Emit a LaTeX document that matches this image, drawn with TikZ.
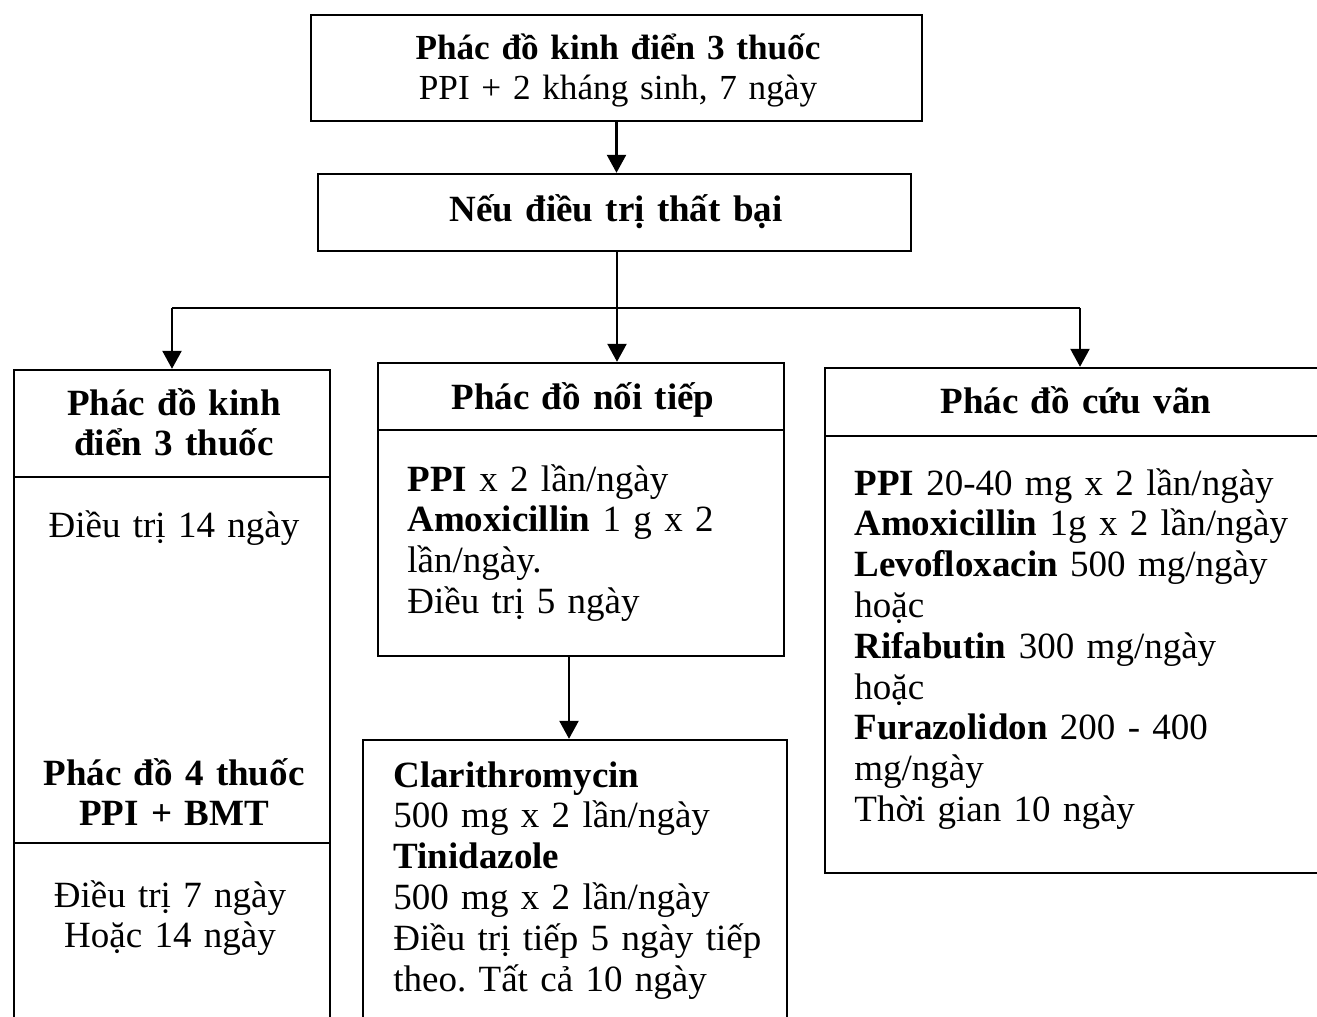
\documentclass[tikz,border=0pt]{standalone}
\usepackage{fontspec}
\setmainfont{Liberation Serif}
\usetikzlibrary{fit,arrows.meta}
\newcommand\dfont{\frenchspacing\fontsize{18.5}{20.4}\selectfont}
\newcommand\tfont{\frenchspacing\fontsize{17.6}{20.4}\selectfont}
\begin{document}
\begin{tikzpicture}[x=0.5pt,y=-0.5pt,
  box/.style={draw, line width=1.2pt, inner sep=0pt},
  txt/.style={inner sep=0pt, anchor=base west, text width=#1, align=left, font=\dfont},
  ctr/.style={inner sep=0pt, anchor=base, text width=#1, align=center, font=\dfont},
  conn/.style={line width=1.2pt},
  arr/.style={line width=1.2pt, -{Triangle[width=9.5pt,length=9pt]}}
]
\path[use as bounding box, clip] (0,0) rectangle (1317,1017);
\fill[white] (0,0) rectangle (1317,1017);

% boxes
\node[box, fit={(311,15) (922,121)}] (t1) {};
\node[box, fit={(318,174) (911,251)}] (t2) {};
\node[box, fit={(14,370) (330,477)}] (L1) {};
\node[box, fit={(14,477) (330,843)}] (L2) {};
\node[box, fit={(14,843) (330,1060)}] (L3) {};
\node[box, fit={(378,363) (784,430)}] (M1) {};
\node[box, fit={(378,430) (784,656)}] (M2) {};
\node[box, fit={(363,740) (787,1060)}] (N) {};
\node[box, fit={(825,368) (1340,436)}] (R1) {};
\node[box, fit={(825,436) (1340,873)}] (R2) {};

% texts
\node[ctr=300pt, font=\tfont] (t1txt) at (618,59) {\textbf{Phác đồ kinh điển 3 thuốc}\\PPI + 2 kháng sinh, 7 ngày};
\node[ctr=290pt] (t2txt) at (616,221) {\textbf{Nếu điều trị thất bại}};

\node[ctr=150pt] (L1txt) at (174,415) {\bfseries Phác đồ kinh\\điển 3 thuốc};
\node[ctr=150pt] (L2txt) at (174,537) {Điều trị 14 ngày};
\node[ctr=150pt] (L2btxt) at (174,785) {\bfseries Phác đồ 4 thuốc\\PPI + BMT};
\node[ctr=150pt] (L3txt) at (170,907) {Điều trị 7 ngày\\Hoặc 14 ngày};

\node[ctr=190pt] (M1txt) at (583,409) {\textbf{Phác đồ nối tiếp}};
\node[txt=180pt] (M2txt) at (407,491) {\textbf{PPI} x 2 lần/ngày\\\textbf{Amoxicillin} 1 g x 2\\lần/ngày.\\Điều trị 5 ngày};

\node[txt=200pt] (Ntxt) at (393,787) {\textbf{Clarithromycin}\\500 mg x 2 lần/ngày\\\textbf{Tinidazole}\\500 mg x 2 lần/ngày\\Điều trị tiếp 5 ngày tiếp\\theo. Tất cả 10 ngày};

\node[ctr=240pt] (R1txt) at (1076,413) {\textbf{Phác đồ cứu vãn}};
\node[txt=230pt] (R2txt) at (854,495) {\textbf{PPI} 20-40 mg x 2 lần/ngày\\\textbf{Amoxicillin} 1g x 2 lần/ngày\\\textbf{Levofloxacin} 500 mg/ngày\\hoặc\\\textbf{Rifabutin} 300 mg/ngày\\hoặc\\\textbf{Furazolidon} 200 - 400\\mg/ngày\\Thời gian 10 ngày};

% connectors
\draw[arr] (t1.south) -- (t1.south |- t2.north);
\coordinate (b0) at (617,251);
\coordinate (jL) at (172,308);
\coordinate (jR) at (1080,308);
\draw[arr] (b0) -- (b0 |- M1.north);
\draw[conn] (jL) -- (jR);
\draw[arr] (jL) -- (jL |- L1.north);
\draw[arr] (jR) -- (jR |- R1.north);
\coordinate (mb) at (569,656);
\draw[arr] (mb) -- (mb |- N.north);
\end{tikzpicture}
\end{document}
